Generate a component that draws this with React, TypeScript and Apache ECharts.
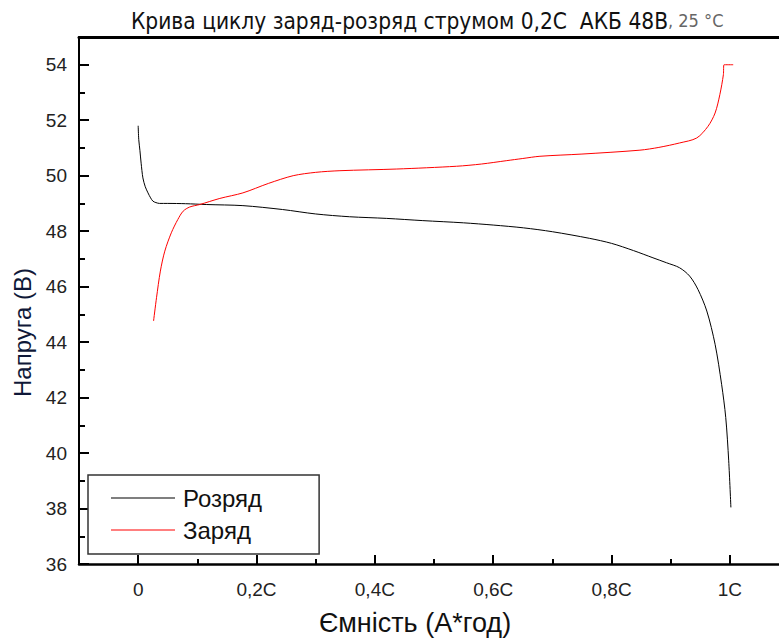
import React, { useEffect, useRef } from "react";
import * as echarts from "echarts";

// Discharge (Розряд) curve: [capacity fraction of C, voltage V]
const dischargeX = [0.0, 0.001, 0.003, 0.005, 0.008, 0.012, 0.0166, 0.021, 0.025, 0.03, 0.036, 0.05, 0.08, 0.115, 0.177, 0.244, 0.30, 0.357, 0.42, 0.481, 0.55, 0.60, 0.651, 0.70, 0.763, 0.80, 0.837, 0.87, 0.893, 0.915, 0.932, 0.946, 0.961, 0.975, 0.986, 0.993, 0.998, 1.0017];
const dischargeY = [51.8, 51.3, 50.9, 50.45, 49.92, 49.6, 49.38, 49.2, 49.08, 49.03, 49.0, 49.0, 48.99, 48.96, 48.92, 48.78, 48.62, 48.52, 48.46, 48.38, 48.3, 48.22, 48.12, 47.98, 47.74, 47.56, 47.3, 47.04, 46.86, 46.68, 46.38, 45.9, 45.12, 43.92, 42.48, 41.28, 39.72, 38.04];

// Charge (Заряд) curve
const chargeX = [0.026, 0.031, 0.0375, 0.045, 0.056, 0.067, 0.076, 0.087, 0.104, 0.138, 0.177, 0.22, 0.262, 0.30, 0.341, 0.437, 0.538, 0.58, 0.622, 0.65, 0.679, 0.75, 0.848, 0.88, 0.915, 0.944, 0.963, 0.975, 0.983, 0.989, 0.990, 1.0056];
const chargeY = [44.76, 45.6, 46.56, 47.28, 47.94, 48.42, 48.72, 48.87, 48.96, 49.18, 49.38, 49.72, 50.0, 50.12, 50.18, 50.24, 50.34, 50.42, 50.54, 50.62, 50.7, 50.78, 50.92, 51.02, 51.18, 51.36, 51.78, 52.26, 52.92, 53.64, 54.0, 54.0];

const xMajorTicks = [0, 0.2, 0.4, 0.6, 0.8, 1.0];
const xMinorTicks = [0.1, 0.3, 0.5, 0.7, 0.9];

const pairs = (xs: number[], ys: number[]) => xs.map((x, i) => [x, ys[i]]);

const fmtX = (v: number) => {
  if (Math.abs(v) < 1e-9) return "0";
  if (Math.abs(v - 1) < 1e-9) return "1C";
  return v.toFixed(1).replace(".", ",") + "C";
};

const SANS = "Liberation Sans, Arial, sans-serif";
const NARROW = "DejaVu Sans Condensed, Liberation Sans, sans-serif";

export default function App() {
  const ref = useRef<HTMLDivElement>(null);
  useEffect(() => {
    document.body.style.margin = "0";
    const chart = echarts.init(ref.current!, null, { renderer: "svg" });
    const xMin = -0.1;
    const xMax = 1.083;
    chart.setOption({
      animation: false,
      backgroundColor: "#ffffff",
      title: {
        left: 126,
        top: 4,
        text: "{a|Крива циклу заряд-розряд струмом 0,2C  АКБ 48В}{b|, 25 °C}",
        textStyle: {
          fontWeight: "normal",
          rich: {
            a: { fontFamily: NARROW, fontSize: 22.5, fontWeight: "normal", color: "#111111" },
            b: { fontFamily: NARROW, fontSize: 18, fontWeight: "normal", color: "#666666" },
          },
        },
      },
      grid: { left: 79, right: 0, top: 37, bottom: 78, containLabel: false },
      legend: {
        left: 88,
        top: 475,
        orient: "vertical",
        icon: "rect",
        itemWidth: 64,
        itemHeight: 1,
        itemGap: 8,
        padding: [11, 57, 12, 23],
        borderColor: "#333333",
        borderWidth: 1.5,
        borderRadius: 0,
        backgroundColor: "#ffffff",
        textStyle: { fontFamily: SANS, fontSize: 24, lineHeight: 24, color: "#111111", padding: [0, 0, 0, 3] },
        data: ["Розряд", "Заряд"],
      },
      xAxis: [
        {
          type: "value",
          min: xMin,
          max: xMax,
          position: "bottom",
          axisLine: { show: true, onZero: false, lineStyle: { color: "#000", width: 2.5 } },
          axisTick: { show: true, inside: true, length: 9, customValues: xMajorTicks, lineStyle: { color: "#000", width: 2 } },
          axisLabel: { customValues: xMajorTicks, formatter: fmtX, margin: 16, fontSize: 19, color: "#222", fontFamily: SANS },
          splitLine: { show: false },
          name: "Ємність (А*год)",
          nameLocation: "middle",
          nameGap: 45,
          nameTextStyle: { fontSize: 27, color: "#111", fontFamily: SANS, padding: [0, 28, 0, 0] },
        },
        {
          type: "value",
          min: xMin,
          max: xMax,
          position: "bottom",
          axisLine: { show: false, onZero: false },
          axisTick: { show: true, inside: true, length: 5, customValues: xMinorTicks, lineStyle: { color: "#000", width: 2 } },
          axisLabel: { show: false },
          splitLine: { show: false },
        },
        {
          type: "value",
          min: xMin,
          max: xMax,
          position: "top",
          axisLine: { show: true, onZero: false, lineStyle: { color: "#000", width: 3 } },
          axisTick: { show: false },
          axisLabel: { show: false },
          splitLine: { show: false },
        },
      ],
      yAxis: {
        type: "value",
        min: 36,
        max: 55,
        interval: 2,
        axisLine: { show: true, onZero: false, lineStyle: { color: "#000", width: 2 } },
        axisTick: { show: true, inside: true, length: 10, lineStyle: { color: "#000", width: 2 } },
        minorTick: { show: true, splitNumber: 2, length: 6, lineStyle: { color: "#000", width: 2 } },
        axisLabel: { margin: 12, fontSize: 19, color: "#222", fontFamily: SANS, formatter: (v: number) => (v > 54 ? "" : String(v)) },
        splitLine: { show: false },
        name: "Напруга (В)",
        nameLocation: "middle",
        nameGap: 44,
        nameTextStyle: { fontSize: 24, color: "#0f1838", fontFamily: SANS, padding: [0, 64, 0, 0] },
      },
      series: [
        {
          name: "Розряд",
          type: "line",
          xAxisIndex: 0,
          data: pairs(dischargeX, dischargeY),
          symbol: "none",
          smooth: 0.3,
          lineStyle: { color: "#000000", width: 1 },
          itemStyle: { color: "#000000" },
        },
        {
          name: "Заряд",
          type: "line",
          xAxisIndex: 0,
          data: pairs(chargeX, chargeY),
          symbol: "none",
          smooth: 0.3,
          lineStyle: { color: "#ff0000", width: 1 },
          itemStyle: { color: "#ff0000" },
        },
      ],
    });
    return () => chart.dispose();
  }, []);
  return <div ref={ref} style={{ width: 779, height: 642 }} />;
}
